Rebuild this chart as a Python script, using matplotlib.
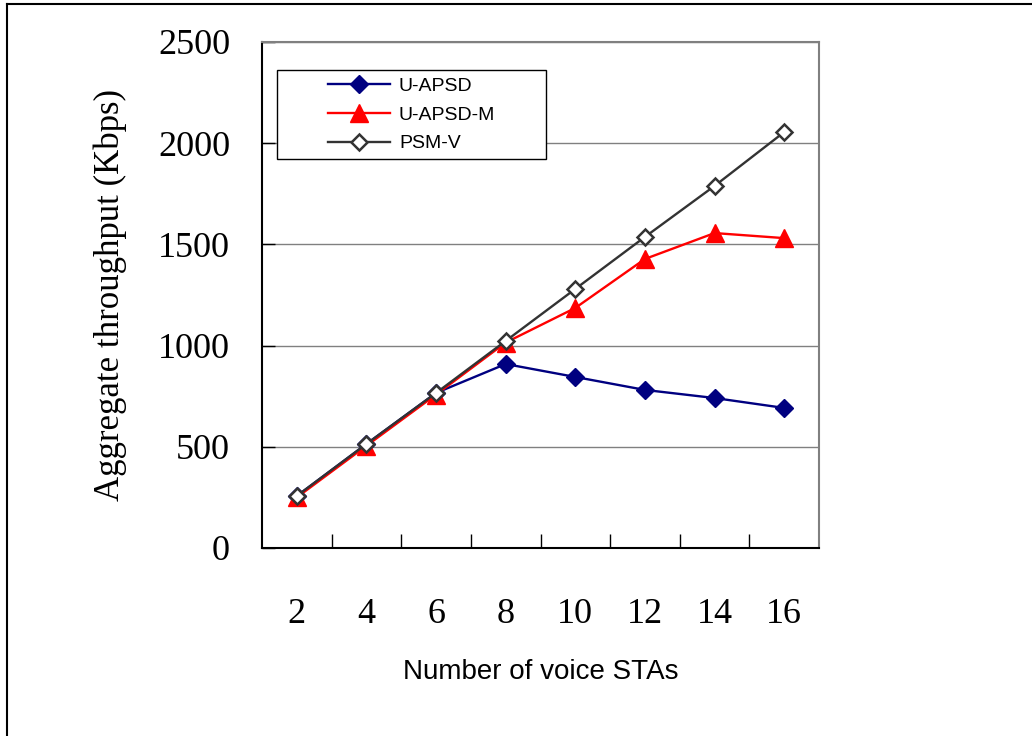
import matplotlib
matplotlib.use('Agg')
import matplotlib.pyplot as plt
from matplotlib.patches import Rectangle
from matplotlib.lines import Line2D

# data
stas = [2, 4, 6, 8, 10, 12, 14, 16]
u_apsd = [257, 514, 766, 909, 845, 781, 741, 692]
u_apsd_m = [250, 505, 758, 1015, 1186, 1428, 1556, 1531]
psm_v = [257, 514, 766, 1023, 1280, 1537, 1789, 2055]
series_names = ['U-APSD', 'U-APSD-M', 'PSM-V']
y_ticks = [0, 500, 1000, 1500, 2000, 2500]

serif = 'Liberation Serif'
sans = 'Liberation Sans'

fig = plt.figure(figsize=(10.32, 7.36), dpi=100)
ax = fig.add_axes([262 / 1032, 1 - 548 / 736, 557 / 1032, 506 / 736])

pos = list(range(len(stas)))
ax.plot(pos, u_apsd, color='#000080', lw=1.7, marker='D', ms=9,
        mfc='#000080', mec='#000080', label=series_names[0], zorder=3)
ax.plot(pos, u_apsd_m, color='#ff0000', lw=1.7, marker='^', ms=13,
        mfc='#ff0000', mec='#ff0000', label=series_names[1], zorder=3)
ax.plot(pos, psm_v, color='#333333', lw=1.7, marker='D', ms=8.5,
        mfc='white', mec='#333333', mew=1.8, label=series_names[2], zorder=3)

ax.set_xlim(-0.5, len(stas) - 0.5)
ax.set_ylim(0, 2500)
ax.set_yticks(y_ticks)
ax.set_yticklabels([str(v) for v in y_ticks], fontfamily=serif, fontsize=26)
ax.set_xticks(pos)
ax.set_xticklabels([str(s) for s in stas], fontfamily=serif, fontsize=26)
# category boundaries get the tick marks
ax.set_xticks([p - 0.5 for p in pos[1:]], minor=True)
ax.tick_params(axis='x', which='major', length=0, pad=36)
ax.tick_params(axis='x', which='minor', direction='in', length=10, width=1, color='black')
ax.tick_params(axis='y', direction='in', length=9, width=1, color='black', pad=23)

ax.yaxis.grid(True, color='#808080', lw=1)
ax.set_axisbelow(True)
for side in ['top', 'right']:
    ax.spines[side].set_color('#808080')
    ax.spines[side].set_linewidth(1.5)
for side in ['left', 'bottom']:
    ax.spines[side].set_color('black')
    ax.spines[side].set_linewidth(1.5)

ax.set_ylabel('Aggregate throughput (Kbps)', fontfamily=serif, fontsize=25)
ax.yaxis.set_label_coords(-0.242, 0.5)
ax.set_xlabel('Number of voice STAs', fontfamily=sans, fontsize=20)
ax.xaxis.set_label_coords(0.5, -0.219)

# legend box as in the original
box = Rectangle((15 / 557, 389 / 506), 269 / 557, 89 / 506, transform=ax.transAxes,
                facecolor='white', edgecolor='black', lw=1, zorder=4)
ax.add_patch(box)
leg = ax.legend(loc='center left', bbox_to_anchor=(66 / 557, 433 / 506), frameon=False,
                prop={'family': sans, 'size': 14}, handlelength=3.2, handletextpad=0.45,
                labelspacing=0.56, borderpad=0, borderaxespad=0)
leg.set_zorder(5)

# outer frame (top and left edges)
fig.add_artist(Line2D([7 / 1032, 1], [1 - 4 / 736, 1 - 4 / 736], color='black', lw=1.5))
fig.add_artist(Line2D([7 / 1032, 7 / 1032], [0, 1 - 4 / 736], color='black', lw=1.5))

fig.savefig('out.png', dpi=100)
